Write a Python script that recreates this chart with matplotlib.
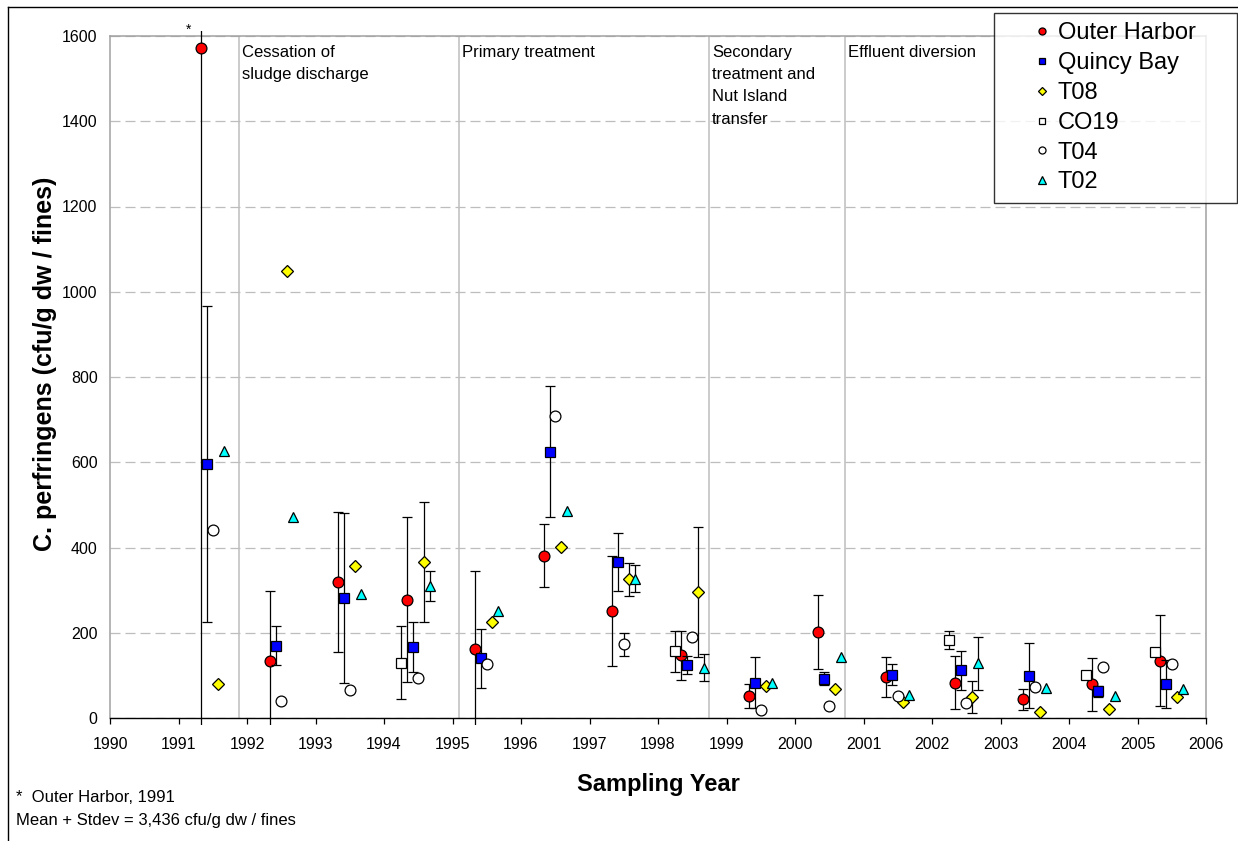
import numpy as np
import matplotlib
matplotlib.use("Agg")
import matplotlib.pyplot as plt
from matplotlib.patches import Rectangle
from matplotlib.lines import Line2D

plt.rcParams['font.family'] = ['Liberation Sans', 'DejaVu Sans']

nan = np.nan
years = [1991, 1992, 1993, 1994, 1995, 1996, 1997, 1998, 1999, 2000, 2001, 2002, 2003, 2004, 2005]

stations = ["Outer Harbor", "Quincy Bay", "T08", "CO19", "T04", "T02"]

oh_mean = [1571, 134, 320, 278, 162, 381, 252, 147, 52, 201, 96, 83, 44, 79, 134]
oh_sd = [1865, 165, 164, 194, 184, 74, 129, 57, 28, 87, 47, 63, 25, 62, 107]

qb_mean = [596, 170, 281, 166, 140, 625, 365, 124, 83, 92, 102, 112, 99, 63, 79]
qb_sd = [370, 46, 200, 59, 69, 154, 68, 21, 59, 15, 24, 46, 76, 13, 56]

t08_mean = [80, 1049, 357, 366, 225, 402, 325, 296, 75, 68, 38, 49, 13, 20, 49]
t08_sd = [nan, nan, nan, 141, nan, nan, 38, 152, nan, nan, nan, 38, nan, nan, nan]

co19_mean = [nan, nan, nan, 130, nan, nan, nan, 157, nan, nan, nan, 183, nan, 102, 156]
co19_sd = [nan, nan, nan, 85, nan, nan, nan, 48, nan, nan, nan, 22, nan, 5, 5]

t04_mean = [441, 41, 66, 95, 127, 708, 173, 189, 18, 28, 52, 36, 73, 119, 127]
t04_sd = [nan, nan, nan, nan, nan, nan, 27, nan, nan, nan, nan, nan, nan, nan, nan]

t02_mean = [627, 471, 291, 310, 252, 486, 327, 118, 81, 144, 54, 128, 70, 52, 67]
t02_sd = [nan, nan, nan, 35, nan, nan, 32, 32, nan, nan, nan, 63, nan, nan, nan]

period_starts = [1991.88, 1995.09, 1998.74, 2000.73]
period_labels = ["Cessation of\nsludge discharge", "Primary treatment",
                 "Secondary\ntreatment and\nNut Island\ntransfer", "Effluent diversion"]

means = [oh_mean, qb_mean, t08_mean, co19_mean, t04_mean, t02_mean]
sds = [oh_sd, qb_sd, t08_sd, co19_sd, t04_sd, t02_sd]

# styles
offsets = [0.33, 0.42, 0.58, 0.25, 0.50, 0.67]
markers = ['o', 's', 'D', 's', 'o', '^']
colors = ['#FF0000', '#0000FF', '#FFFF00', '#FFFFFF', '#FFFFFF', '#00FFFF']
msizes = [7.8, 7.2, 5.8, 7.2, 7.8, 7.8]

W, H = 1238, 841
fig = plt.figure(figsize=(W / 100, H / 100), dpi=100)
ax = fig.add_axes([110 / W, 1 - 718 / H, (1206 - 110) / W, (718 - 36) / H])
ax.set_xlim(1990, 2006)
ax.set_ylim(0, 1600)

clip_rect = Rectangle((1990, -16), 16, 1628, transform=ax.transData)

handles = []
for i, (name, m, s) in enumerate(zip(stations, means, sds)):
    x = np.array(years, dtype=float) + offsets[i]
    m = np.array(m, dtype=float)
    s = np.array(s, dtype=float)
    ok = np.isfinite(s) & np.isfinite(m)
    if ok.any():
        cont = ax.errorbar(x[ok], m[ok], yerr=s[ok], fmt='none', ecolor='black',
                           elinewidth=0.9, capsize=3.6, capthick=0.9, zorder=3 + 2 * i)
        for art in list(cont.lines[1]) + list(cont.lines[2]):
            art.set_clip_path(clip_rect)
    h, = ax.plot(x, m, linestyle='none', marker=markers[i], markersize=msizes[i],
                 markerfacecolor=colors[i], markeredgecolor='black',
                 markeredgewidth=0.9, zorder=4 + 2 * i, label=name)
    handles.append(h)

# period dividers and labels
for xs, lab in zip(period_starts, period_labels):
    ax.axvline(xs, color='#BDBDBD', linewidth=1.1, zorder=1)
    ax.annotate(lab, xy=(xs, 1600), xytext=(2.5, -6.5), textcoords='offset points',
                ha='left', va='top', fontsize=12, linespacing=1.6, zorder=2)

# grid
ax.set_yticks(np.arange(0, 1601, 200))
ax.set_xticks(np.arange(1990, 2007, 1))
ax.yaxis.grid(True, color='#BDBDBD', linestyle=(0, (8, 4)), linewidth=0.9)
ax.set_axisbelow(True)

for sp in ['top', 'right', 'left']:
    ax.spines[sp].set_color('#A0A0A0')
    ax.spines[sp].set_linewidth(1.1)
ax.spines['bottom'].set_color('black')
ax.spines['bottom'].set_linewidth(1.0)

ax.tick_params(axis='y', length=0, pad=9, labelsize=11.5)
ax.tick_params(axis='x', length=4, width=0.9, direction='out', pad=10, labelsize=11.5)

ax.set_ylabel("C. perfringens (cfu/g dw / fines)", fontsize=18, fontweight='bold',
              va='center')
ax.yaxis.set_label_coords(-0.059, 0.52)
ax.set_xlabel("Sampling Year", fontsize=17, fontweight='bold', va='center')
ax.xaxis.set_label_coords(0.5, -0.098)

# asterisk marker for off-scale value
ax.text(1991.14, 1614, "*", ha='center', va='center', fontsize=10, clip_on=False)

# legend
leg = fig.legend(handles=handles, loc='upper left',
                 bbox_to_anchor=(994 / W, 1 - 201 / H, 243 / W, 188 / H),
                 mode='expand', borderaxespad=0, frameon=True, fancybox=False, fontsize=17,
                 markerscale=0.65, handlelength=3.3, handletextpad=-1.0,
                 labelspacing=0.33, borderpad=0.4)
leg.get_frame().set_edgecolor('black')
leg.get_frame().set_linewidth(1.0)

# footnotes
fig.text(16 / W, 1 - 797 / H, "*  Outer Harbor, 1991", fontsize=12, va='center', ha='left')
fig.text(16 / W, 1 - 821 / H, "Mean + Stdev = 3,436 cfu/g dw / fines", fontsize=12,
         va='center', ha='left')

# figure border
fig.add_artist(Line2D([8 / W, 1], [1 - 7 / H, 1 - 7 / H], transform=fig.transFigure,
                      color='black', linewidth=1))
fig.add_artist(Line2D([8 / W, 8 / W], [0, 1 - 7 / H], transform=fig.transFigure,
                      color='black', linewidth=1))

fig.savefig("out.png", dpi=100)
